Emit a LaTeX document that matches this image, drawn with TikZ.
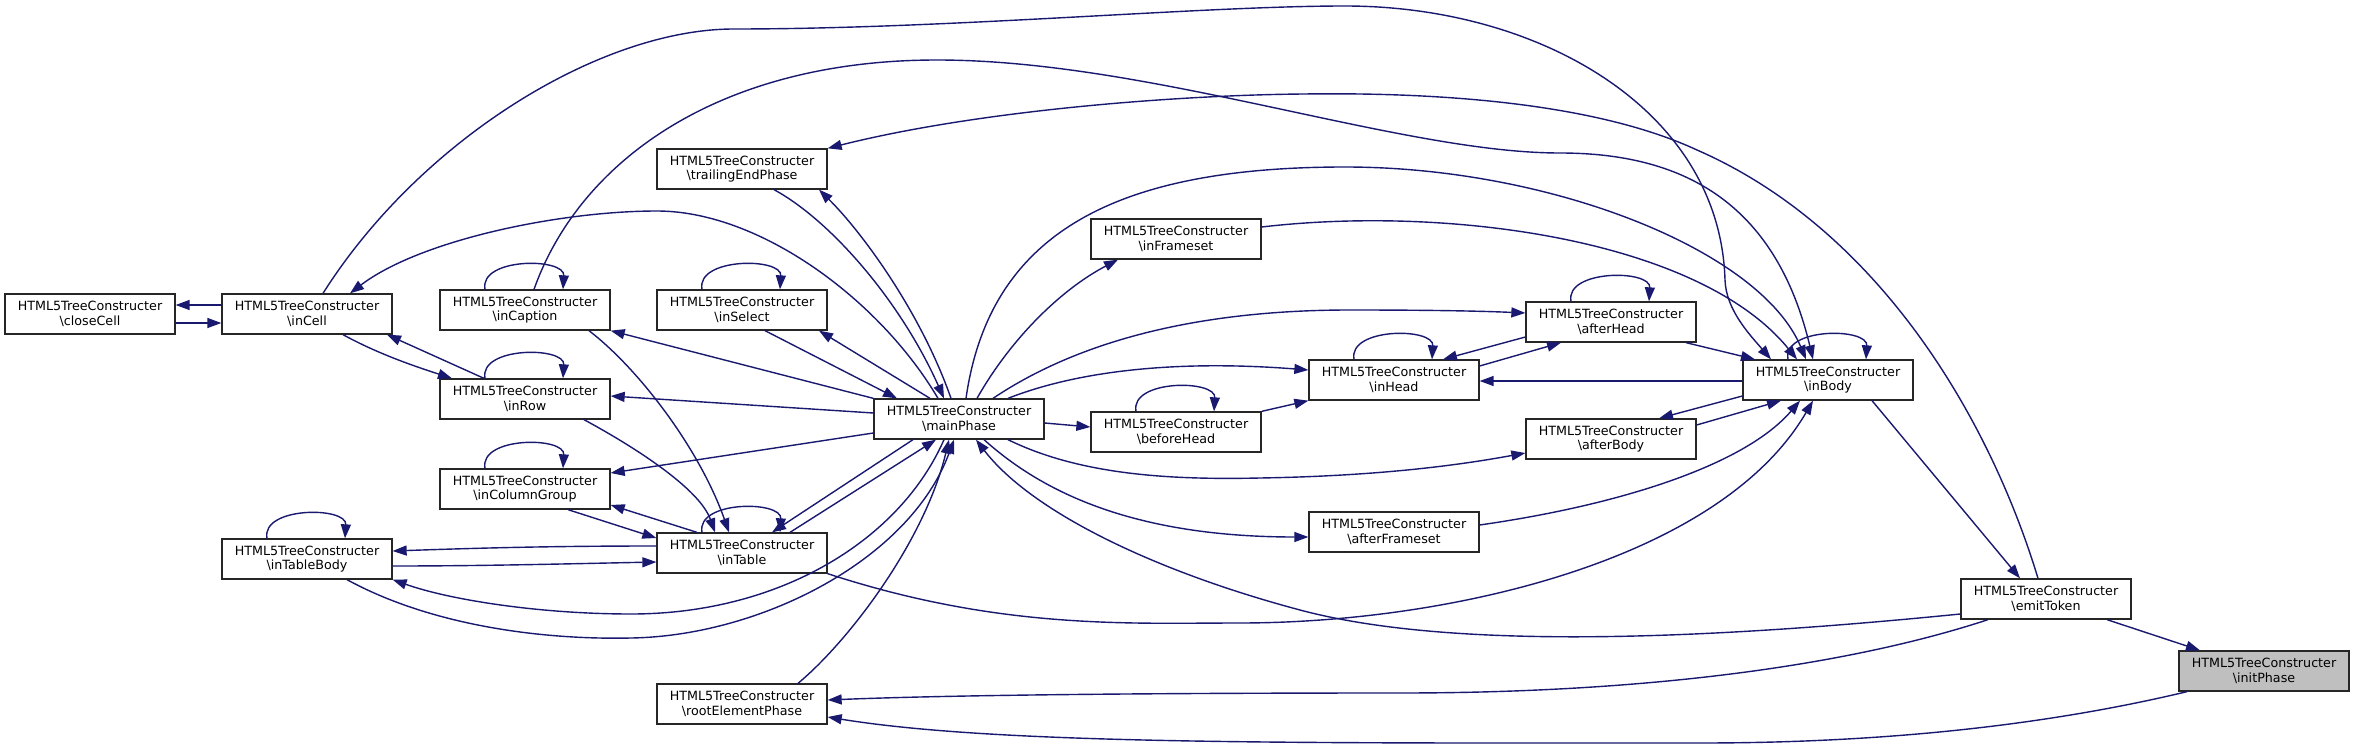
\documentclass[tikz,border=0pt]{standalone}
\usepackage{fontspec}
\newfontfamily\dxfam{DejaVu Sans}
\usetikzlibrary{arrows.meta}
\definecolor{edgeblue}{HTML}{191970}
\definecolor{boxborder}{HTML}{262626}
\definecolor{hlgray}{HTML}{BFBFBF}
\newcommand\dxfont{\dxfam\fontsize{12.7}{14.7}\selectfont}
\tikzset{
  box/.style={draw=boxborder, fill=white, line width=1.3pt, minimum width=170pt,
    minimum height=40pt, inner sep=0pt, align=center, font=\dxfont},
  edge/.style={draw=edgeblue, line width=1.4pt, -{Triangle[length=14pt,width=10pt]}},
}
\newcommand\dxloop[1]{\draw[edge] ([xshift=-40pt]#1.north) .. controls +(-6,-32) and +(2,-32) .. ([xshift=38pt]#1.north);}
\begin{document}
\begin{tikzpicture}[x=1pt,y=-1pt]
\useasboundingbox[fill=white] (0,0) rectangle (2353,749);
% nodes
\node[box] (closeCell) at (90,314) {HTML5TreeConstructer\\\textbackslash closeCell};
\node[box] (inCell) at (307,314) {HTML5TreeConstructer\\\textbackslash inCell};
\node[box] (inCaption) at (525,310) {HTML5TreeConstructer\\\textbackslash inCaption};
\node[box] (inRow) at (525,399) {HTML5TreeConstructer\\\textbackslash inRow};
\node[box] (inColumnGroup) at (525,489) {HTML5TreeConstructer\\\textbackslash inColumnGroup};
\node[box] (inTableBody) at (307,559) {HTML5TreeConstructer\\\textbackslash inTableBody};
\node[box] (inTable) at (742,553) {HTML5TreeConstructer\\\textbackslash inTable};
\node[box] (rootElementPhase) at (742,704) {HTML5TreeConstructer\\\textbackslash rootElementPhase};
\node[box] (trailingEndPhase) at (742,169) {HTML5TreeConstructer\\\textbackslash trailingEndPhase};
\node[box] (inSelect) at (742,310) {HTML5TreeConstructer\\\textbackslash inSelect};
\node[box] (mainPhase) at (959,419) {HTML5TreeConstructer\\\textbackslash mainPhase};
\node[box] (inFrameset) at (1176,239) {HTML5TreeConstructer\\\textbackslash inFrameset};
\node[box] (beforeHead) at (1176,432) {HTML5TreeConstructer\\\textbackslash beforeHead};
\node[box] (afterHead) at (1611,322) {HTML5TreeConstructer\\\textbackslash afterHead};
\node[box] (inHead) at (1394,380) {HTML5TreeConstructer\\\textbackslash inHead};
\node[box] (inBody) at (1828,380) {HTML5TreeConstructer\\\textbackslash inBody};
\node[box] (afterBody) at (1611,439) {HTML5TreeConstructer\\\textbackslash afterBody};
\node[box] (afterFrameset) at (1394,532) {HTML5TreeConstructer\\\textbackslash afterFrameset};
\node[box] (emitToken) at (2046,599) {HTML5TreeConstructer\\\textbackslash emitToken};
\node[box, fill=hlgray] (initPhase) at (2264,671) {HTML5TreeConstructer\\\textbackslash initPhase};
% edges
\draw[edge] (inCell.west |- 0,305) -- (closeCell.east |- 0,305);
\draw[edge] (closeCell.east |- 0,323) -- (inCell.west |- 0,323);
\draw[edge] (inCell.south -| 343,0) .. controls (380,355) and (420,368) .. (inRow.north -| 452,0);
\draw[edge] (inRow.north -| 484,0) -- (inCell.south -| 387,0);
\draw[edge] (mainPhase.north -| 938,0) .. controls (880,300) and (760,211) .. (657,211) .. controls (560,211) and (420,240) .. (inCell.north -| 350,0);
\draw[edge] (inCell.north -| 323,0) .. controls (420,140) and (600,29) .. (734,29) .. controls (950,29) and (1200,6) .. (1345,6) .. controls (1540,6) and (1720,110) .. (1725,280) .. controls (1726,310) and (1750,335) .. (inBody.north -| 1771,0);
\draw[edge] (inCaption.north -| 534,0) .. controls (580,160) and (720,60) .. (937,60) .. controls (1150,60) and (1400,153) .. (1560,153) .. controls (1680,153) and (1775,200) .. (inBody.north -| 1813,0);
\draw[edge] (emitToken.north -| 2038,0) .. controls (1990,420) and (1880,230) .. (1697,150) .. controls (1600,105) and (1450,92) .. (1304,94) .. controls (1180,95) and (980,110) .. (trailingEndPhase.north east);
\draw[edge] (mainPhase.north -| 966,0) .. controls (990,230) and (1120,167) .. (1345,167) .. controls (1550,167) and (1760,250) .. (inBody.north -| 1806,0);
\draw[edge] (inFrameset.east |- 0,227) .. controls (1450,205) and (1700,240) .. (inBody.north -| 1797,0);
\draw[edge] (afterHead.south -| 1686,0) -- (inBody.north -| 1755,0);
\dxloop{inBody}
\draw[edge] (inBody.west |- 0,381) -- (inHead.east |- 0,381);
\draw[edge] (inBody.west |- 0,396) -- (afterBody.north -| 1659,0);
\draw[edge] (afterBody.east |- 0,425) -- (inBody.south -| 1781,0);
\draw[edge] (afterFrameset.east |- 0,525) .. controls (1620,505) and (1745,465) .. (inBody.south -| 1800,0);
\draw[edge] (inTable.south east) .. controls (1000,630) and (1130,623) .. (1239,623) .. controls (1450,623) and (1720,560) .. (inBody.south -| 1813,0);
\draw[edge] (emitToken.west |- 0,614) .. controls (1700,640) and (1450,650) .. (1300,610) .. controls (1150,570) and (1030,510) .. (mainPhase.south -| 976,0);
\draw[edge] (emitToken.south -| 1988,0) .. controls (1850,665) and (1650,693) .. (1400,693) .. controls (1150,693) and (950,695) .. (rootElementPhase.east |- 0,700);
\draw[edge] (initPhase.south -| 2187,0) .. controls (2060,722) and (1900,743) .. (1700,743) .. controls (1300,743) and (1000,745) .. (rootElementPhase.east |- 0,717);
\draw[edge] (emitToken.south -| 2107,0) -- (initPhase.north -| 2200,0);
\draw[edge] (inBody.south -| 1872,0) -- (emitToken.north -| 2020,0);
\draw[edge] (rootElementPhase.north -| 798,0) .. controls (850,640) and (925,540) .. (mainPhase.south -| 949,0);
\draw[edge] (mainPhase.south -| 913,0) -- (inTable.north -| 772,0);
\draw[edge] (inTable.north -| 790,0) -- (mainPhase.south -| 936,0);
\draw[edge] (mainPhase.south -| 944,0) .. controls (900,540) and (780,614) .. (631,614) .. controls (540,614) and (450,600) .. (inTableBody.south east);
\draw[edge] (inTableBody.south -| 347,0) .. controls (430,625) and (540,640) .. (631,638) .. controls (760,636) and (910,560) .. (mainPhase.south -| 954,0);
\draw[edge] (inTable.west |- 0,546) .. controls (550,546) and (480,548) .. (inTableBody.east |- 0,551);
\draw[edge] (inTableBody.east |- 0,566) .. controls (480,566) and (560,564) .. (inTable.west |- 0,562);
\draw[edge] (inColumnGroup.south -| 568,0) -- (inTable.west |- 0,538);
\draw[edge] (inTable.north -| 697,0) -- (inColumnGroup.east |- 0,505);
\draw[edge] (inCaption.south -| 589,0) .. controls (640,370) and (700,450) .. (inTable.north -| 729,0);
\draw[edge] (inRow.south -| 584,0) .. controls (640,450) and (700,490) .. (inTable.north -| 715,0);
\draw[edge] (mainPhase.west |- 0,433) -- (inColumnGroup.east |- 0,473);
\draw[edge] (mainPhase.west |- 0,413) -- (inRow.east |- 0,396);
\draw[edge] (mainPhase.north west) -- (inCaption.south east);
\draw[edge] (inSelect.south -| 765,0) -- (mainPhase.north -| 897,0);
\draw[edge] (mainPhase.north -| 930,0) -- (inSelect.south -| 819,0);
\draw[edge] (trailingEndPhase.south -| 774,0) .. controls (830,220) and (900,300) .. (mainPhase.north -| 944,0);
\draw[edge] (mainPhase.north -| 951,0) .. controls (920,310) and (860,230) .. (trailingEndPhase.south -| 819,0);
\draw[edge] (mainPhase.north -| 977,0) .. controls (1010,340) and (1060,290) .. (inFrameset.south -| 1118,0);
\draw[edge] (mainPhase.north -| 993,0) .. controls (1080,340) and (1200,310) .. (1350,310) .. controls (1430,310) and (1480,311) .. (afterHead.west |- 0,313);
\draw[edge] (mainPhase.north -| 1008,0) .. controls (1080,370) and (1180,360) .. (inHead.west |- 0,370);
\draw[edge] (mainPhase.east |- 0,423) -- (beforeHead.west |- 0,427);
\draw[edge] (beforeHead.north east) -- (inHead.south west);
\draw[edge] (inHead.east |- 0,366) -- (afterHead.south -| 1561,0);
\draw[edge] (afterHead.west |- 0,337) -- (inHead.north -| 1443,0);
\draw[edge] (mainPhase.south -| 1008,0) .. controls (1080,475) and (1170,480) .. (1260,478) .. controls (1380,476) and (1460,465) .. (afterBody.west |- 0,453);
\draw[edge] (mainPhase.south -| 984,0) .. controls (1040,490) and (1130,537) .. (afterFrameset.west |- 0,537);
% self loops
\dxloop{inCaption}
\dxloop{inRow}
\dxloop{inColumnGroup}
\dxloop{inTableBody}
\dxloop{inTable}
\dxloop{inSelect}
\dxloop{beforeHead}
\dxloop{inHead}
\dxloop{afterHead}
\end{tikzpicture}
\end{document}
